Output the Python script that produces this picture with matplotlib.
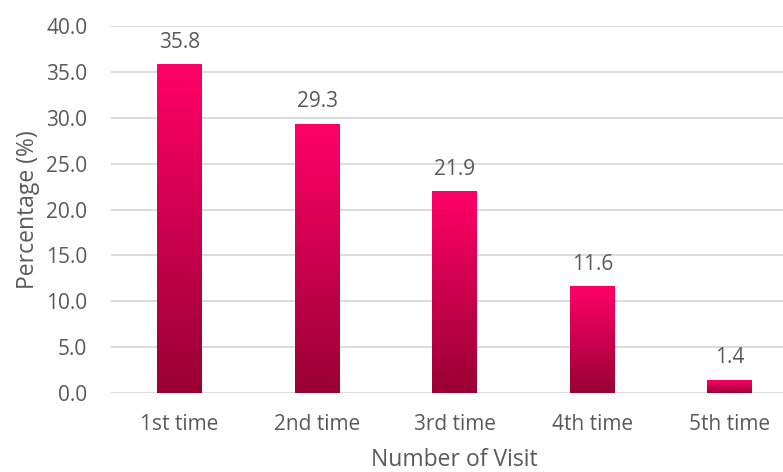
import numpy as np
import matplotlib
matplotlib.use("Agg")
import matplotlib.pyplot as plt
from matplotlib.colors import LinearSegmentedColormap

categories = ["1st time", "2nd time", "3rd time", "4th time", "5th time"]
values = [35.8, 29.3, 21.9, 11.6, 1.4]

plt.rcParams['font.family'] = ['Open Sans', 'DejaVu Sans']
text_color = "#595959"

fig, ax = plt.subplots(figsize=(7.83, 4.72), dpi=100)
# the plot area runs a little past the right edge, like the source
fig.subplots_adjust(left=0.1415, right=1.02, top=0.945, bottom=0.167)

x = np.arange(len(categories))
bars = ax.bar(x, values, width=0.327, color="none", zorder=3)

# vertical gradient inside each bar
cmap = LinearSegmentedColormap.from_list("pink", ["#990033", "#FF0066"])
grad = np.linspace(0, 1, 256).reshape(-1, 1)
for b in bars:
    x0, y0 = b.get_x(), b.get_y()
    w, h = b.get_width(), b.get_height()
    ax.imshow(grad, cmap=cmap, origin="lower", aspect="auto",
              extent=[x0, x0 + w, y0, y0 + h], zorder=3)

for xi, v in zip(x, values):
    ax.text(xi, v + 1.3, f"{v:.1f}", ha="center", va="bottom",
            fontsize=15, color=text_color)

ax.set_xlim(-0.5, len(categories) - 0.5)
ax.set_ylim(0, 40)
ax.set_yticks(np.arange(0, 40.1, 5))
ax.set_yticklabels([f"{t:.1f}" for t in np.arange(0, 40.1, 5)])
ax.set_xticks(x)
ax.set_xticklabels(categories)
ax.tick_params(axis="both", length=0, labelsize=15, labelcolor=text_color)
ax.tick_params(axis="y", pad=17)
ax.tick_params(axis="x", pad=15)
ax.yaxis.grid(True, color="#D9D9D9", linewidth=1.3, zorder=0)
ax.set_axisbelow(True)
for s in ax.spines.values():
    s.set_visible(False)

ax.set_xlabel("Number of Visit", fontsize=16.5, color=text_color, labelpad=9)
ax.set_ylabel("Percentage (%)", fontsize=16.5, color=text_color, labelpad=4)

fig.savefig("out.png", dpi=100)
